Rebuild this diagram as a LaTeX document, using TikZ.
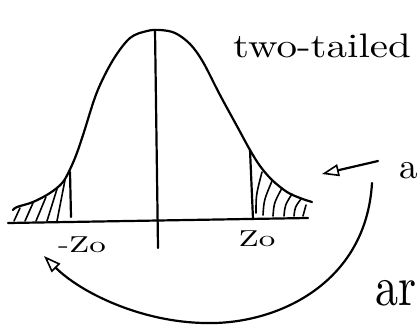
\documentclass[tikz,border=0pt]{standalone}
\usepackage{fontspec}
\setmainfont{Latin Modern Roman}
\usepackage{graphicx}
\usetikzlibrary{arrows.meta}
\begin{document}
\begin{tikzpicture}[x=1pt,y=-1pt,
  pen/.style={line width=2.2pt,line cap=round,line join=round},
  hatch/.style={line width=1.6pt,line cap=round},
  lbl/.style={inner sep=0pt},
  hand/.style={inner sep=0pt,anchor=base west},
  opentip/.style={-{Triangle[open,length=17pt,width=12pt,line width=1.6pt]}}]
\useasboundingbox (0,0) rectangle (419,327);
% coordinates
\coordinate (axL) at (8,223);
\coordinate (axR) at (308,218);
\coordinate (cTop) at (155,30);
\coordinate (cBot) at (158,248);
\coordinate (lcTop) at (70,172);
\coordinate (lcBot) at (71,217);
\coordinate (rcTop) at (250,150);
\coordinate (rcBot) at (253,219);
% bell curve
\draw[pen] plot[smooth,tension=0.55] coordinates {(13,210) (17,207) (33,202) (50,193) (63,182) (72,165) (78,150) (84,132) (97,92) (113,60) (130,38) (147,31) (160,30) (175,33) (190,44) (203,62) (220,95) (238,128) (250,150) (260,166) (272,180) (287,192) (300,198) (312,202)};
% axis and center line
\draw[pen] (axL) -- (axR);
\draw[pen] (cTop) -- (cBot);
% critical lines
\draw[pen] (lcTop) -- (lcBot);
\draw[pen] (rcTop) -- (rcBot);
% hatching left
\draw[hatch] (14,221) -- (20,208);
\draw[hatch] (25,221) -- (33,203);
\draw[hatch] (36,221) -- (46,197);
\draw[hatch] (47,221) -- (57,189);
\draw[hatch] (57,221) -- (65,180);
% hatching right
\draw[hatch] (256,213) .. controls (256,195) .. (262,172);
\draw[hatch] (263,215) .. controls (264,200) .. (272,181);
\draw[hatch] (273,216) .. controls (274,203) .. (282,188);
\draw[hatch] (284,216) .. controls (285,205) .. (292,194);
\draw[hatch] (294,216) .. controls (295,207) .. (301,199);
\draw[hatch] (303,216) -- (306,205);
% labels
\node[lbl] (mz) at (82,245) {\scalebox{3.3}[2.3]{-Zo}};
\node[lbl] (pz) at (257,239) {\scalebox{3.3}[2.3]{Zo}};
\node[hand] (tt) at (233,57) {\scalebox{4.1}[3.4]{two-tailed}};
\node[hand] (a1) at (399,178) {\scalebox{3.7}[3.6]{a}};
\node[hand] (a2) at (375,305) {\scalebox{4.6}[5.6]{ar}};
% arrows
\coordinate (aS) at (378,161);
\coordinate (aE) at (322,174);
\draw[pen,opentip] (aS) -- (aE);
\coordinate (cS) at (372,183);
\coordinate (cM) at (205,323);
\coordinate (cE) at (44,256);
\draw[pen,opentip] (cS) .. controls (366,285) and (275,325) .. (cM) .. controls (140,322) and (80,292) .. (cE);
\end{tikzpicture}
\end{document}
